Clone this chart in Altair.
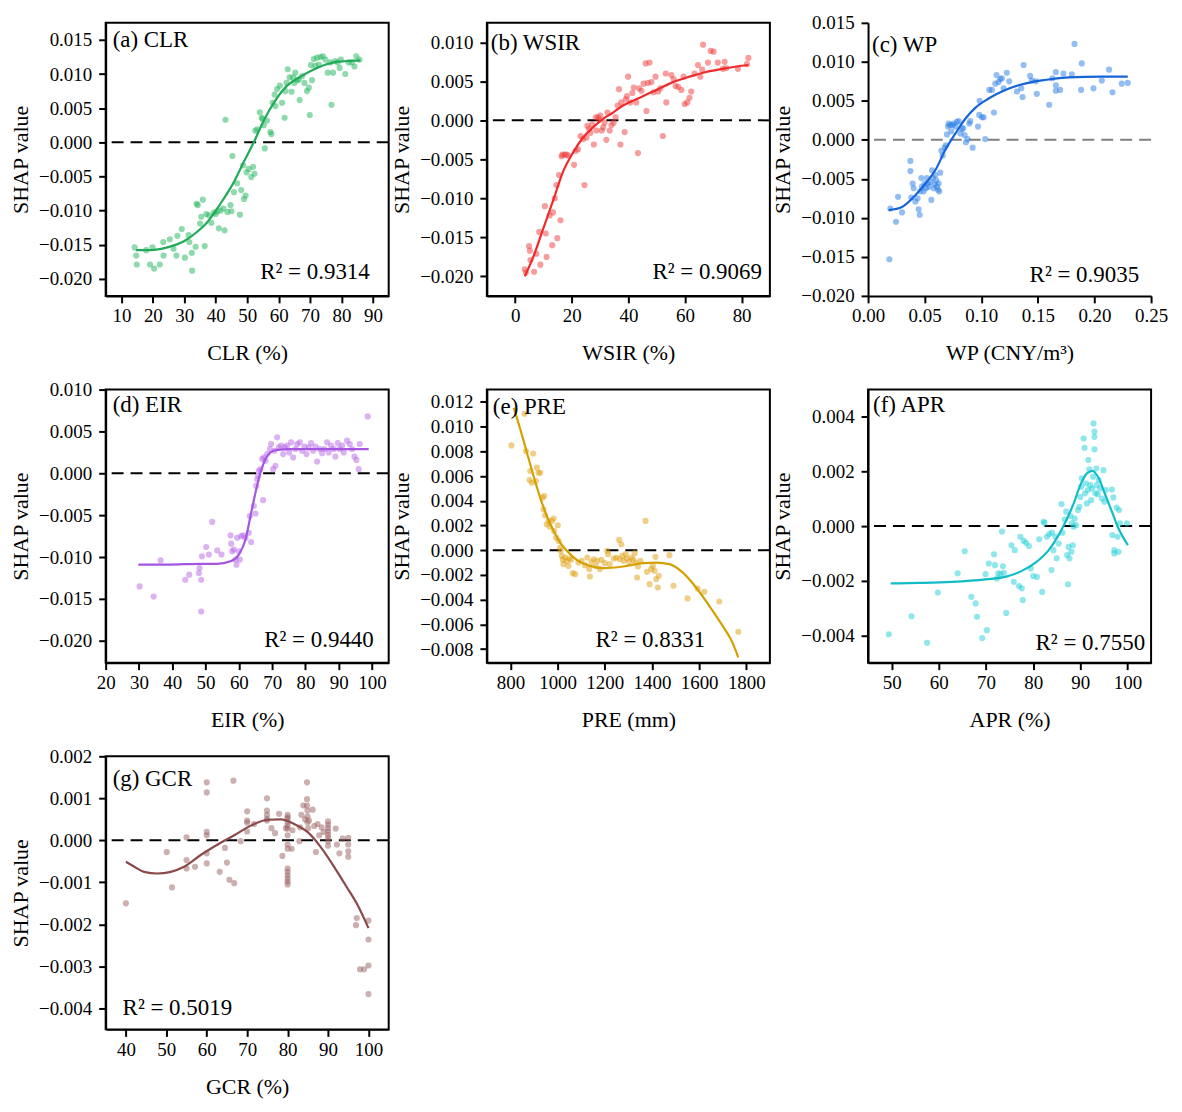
import altair as alt
import pandas as pd

FONT = "Liberation Serif"

# ---------------- data ----------------
a_pts = [(14.2,-0.0154),(14.7,-0.0166),(14.9,-0.0179),(17.9,-0.0158),(19.1,-0.0179),(19.9,-0.0154),(20.4,-0.0185),(22.2,-0.0179),(23.3,-0.0146),(23.4,-0.0166),
         (25.4,-0.0142),(26.6,-0.0156),(27.5,-0.0166),(27.8,-0.0137),(29.2,-0.0127),(30.2,-0.0169),(31.4,-0.0136),(31.6,-0.0146),(32.4,-0.0162),(32.5,-0.0188),
         (33.6,-0.0153),(33.9,-0.0090),(34.3,-0.0092),(35.0,-0.0119),(35.4,-0.0109),(35.9,-0.0084),(36.5,-0.0152),(37.0,-0.0105),(37.8,-0.0107),(38.6,-0.0118),
         (39.4,-0.0103),(40.0,-0.0105),(40.5,-0.0101),(41.0,-0.0126),(41.5,-0.0100),(42.4,-0.0097),(42.8,-0.0129),(43.1,0.0033),(43.7,-0.0102),(44.7,-0.0092),
         (45.0,-0.0101),(45.3,-0.0020),(45.8,-0.0073),(46.8,-0.0060),(47.7,-0.0106),(48.1,-0.0070),(48.7,-0.0034),(49.0,-0.0083),(49.5,-0.0078),(49.8,-0.0044),
         (50.5,-0.0039),(51.3,-0.0051),(51.9,-0.0036),(52.3,-0.0046),(52.6,0.0017),(53.2,0.0019),(54.0,0.0044),(54.6,0.0036),(54.9,0.0034),(55.3,0.0025),
         (55.6,-0.0009),(56.3,0.0032),(57.4,0.0015),(57.7,0.0012),(58.1,0.0058),(58.7,0.0070),(59.0,0.0053),(59.5,0.0078),(60.4,0.0083),(61.1,0.0058),
         (61.9,0.0036),(62.2,0.0075),(62.5,0.0087),(62.9,0.0107),(63.5,0.0095),(64.1,0.0074),(64.6,0.0095),(65.0,0.0087),(65.3,0.0102),(65.9,0.0091),
         (66.4,0.0092),(66.7,0.0062),(67.5,0.0097),(68.2,0.0087),(69.0,0.0075),(69.6,0.0080),(69.9,0.0040),(70.3,0.0113),(70.6,0.0091),(71.2,0.0122),
         (71.7,0.0112),(72.2,0.0124),(72.8,0.0114),(73.3,0.0125),(74.1,0.0126),(74.9,0.0121),(75.6,0.0102),(76.5,0.0117),(76.8,0.0055),(77.3,0.0102),
         (78.0,0.0119),(78.8,0.0117),(79.4,0.0109),(79.8,0.0121),(81.2,0.0100),(82.3,0.0117),(83.3,0.0117),(84.1,0.0111),(84.7,0.0126),(85.7,0.0121)]
a_fit = [(14.6,-0.0158),(19.3,-0.0158),(24.6,-0.0154),(29.9,-0.0145),(34.1,-0.0131),(37.3,-0.0117),(41.5,-0.0090),(45.8,-0.0058),(48.9,-0.0029),
         (52.1,0.0000),(55.3,0.0032),(58.5,0.0058),(62.7,0.0083),(66.9,0.0096),(72.2,0.0109),(77.5,0.0117),(81.7,0.0119),(86.0,0.0120)]

b_pts = [(3.4,-0.0191),(3.8,-0.0195),(4.9,-0.0161),(5.2,-0.0167),(5.4,-0.0179),(6.7,-0.0194),(7.5,-0.0171),(8.5,-0.0143),(8.9,-0.0185),(10.5,-0.0110),
         (10.8,-0.0145),(11.1,-0.0175),(12.2,-0.0122),(13.1,-0.0160),(13.4,-0.0118),(14.0,-0.0100),(14.6,-0.0083),(14.9,-0.0151),(15.5,-0.0070),(16.0,-0.0128),
         (16.4,-0.0046),(16.7,-0.0044),(17.5,-0.0044),(18.1,-0.0044),(18.7,-0.0045),(20.8,-0.0057),(21.4,-0.0039),(22.2,-0.0037),(23.1,-0.0020),(24.0,-0.0024),
         (24.5,-0.0083),(25.2,-0.0022),(25.5,-0.0007),(26.1,-0.0011),(26.6,-0.0016),(27.2,-0.0005),(27.8,-0.0031),(28.5,0.0004),(28.7,-0.0013),(29.3,0.0004),
         (29.6,0.0001),(30.1,0.0006),(30.6,-0.0013),(31.1,-0.0009),(31.6,-0.0003),(32.2,-0.0025),(32.6,0.0010),(33.4,-0.0013),(34.0,-0.0006),(34.8,-0.0003),
         (35.5,0.0004),(36.2,0.0019),(36.7,0.0040),(37.2,-0.0031),(37.5,0.0023),(38.7,-0.0015),(39.1,0.0027),(39.5,0.0031),(39.9,0.0056),(40.7,0.0023),
         (41.4,0.0035),(41.9,0.0042),(42.8,0.0023),(43.4,-0.0042),(43.8,0.0041),(44.6,0.0038),(45.4,0.0047),(46.1,0.0073),(46.4,0.0012),(46.9,0.0048),
         (47.5,0.0074),(48.1,0.0049),(48.9,0.0036),(49.6,0.0056),(50.5,0.0037),(51.3,0.0041),(52.2,-0.0020),(53.2,0.0060),(53.4,0.0023),(55.2,0.0058),
         (56.0,0.0053),(56.7,0.0044),(57.6,0.0043),(58.7,0.0039),(59.5,0.0056),(59.9,0.0021),(60.8,0.0023),(61.6,0.0029),(62.2,0.0037),(63.4,0.0060),
         (64.6,0.0071),(65.4,0.0056),(66.1,0.0065),(66.4,0.0097),(68.1,0.0074),(69.1,0.0089),(70.1,0.0088),(71.6,0.0074),(73.4,0.0066),(74.0,0.0075),
         (74.6,0.0067),(78.7,0.0066),(81.9,0.0072),(82.4,0.0080)]
b_fit = [(3.4,-0.0200),(6.4,-0.0175),(9.9,-0.0139),(13.4,-0.0103),(16.9,-0.0066),(20.5,-0.0041),(24.0,-0.0022),(27.5,-0.0009),(31.1,0.0002),
         (34.6,0.0010),(38.1,0.0019),(44.0,0.0029),(49.9,0.0039),(55.8,0.0049),(61.6,0.0056),(67.5,0.0062),(73.4,0.0066),(78.1,0.0069),(82.4,0.0071)]

c_pts = [(0.0188,-0.0153),(0.0197,-0.0088),(0.0247,-0.0105),(0.0265,-0.0073),(0.0300,-0.0093),(0.0374,-0.0027),(0.0374,-0.0040),(0.0382,-0.0074),(0.0394,-0.0056),(0.0403,-0.0062),
         (0.0418,-0.0079),(0.0438,-0.0075),(0.0447,-0.0089),(0.0456,-0.0096),(0.0462,-0.0066),(0.0471,-0.0049),(0.0476,-0.0060),(0.0491,-0.0066),(0.0500,-0.0056),(0.0512,-0.0062),
         (0.0521,-0.0049),(0.0529,-0.0056),(0.0535,-0.0060),(0.0550,-0.0054),(0.0559,-0.0077),(0.0565,-0.0039),(0.0574,-0.0049),(0.0579,-0.0062),(0.0588,-0.0057),(0.0594,-0.0045),
         (0.0603,-0.0052),(0.0609,-0.0060),(0.0618,-0.0064),(0.0624,-0.0056),(0.0629,-0.0066),(0.0638,-0.0042),(0.0647,-0.0014),(0.0659,-0.0020),(0.0676,-0.0010),(0.0688,-0.0007),
         (0.0697,0.0007),(0.0706,0.0017),(0.0712,0.0021),(0.0726,0.0019),(0.0735,0.0011),(0.0747,0.0019),(0.0756,0.0021),(0.0771,0.0017),(0.0785,0.0023),(0.0800,0.0024),
         (0.0815,0.0008),(0.0829,0.0014),(0.0841,0.0015),(0.0853,0.0006),(0.0865,-0.0003),(0.0879,0.0001),(0.0894,0.0021),(0.0903,0.0024),(0.0924,-0.0010),(0.0971,0.0017),
         (0.0982,0.0032),(0.0985,0.0050),(0.1006,0.0029),(0.1021,0.0029),(0.1035,0.0001),(0.1071,0.0064),(0.1094,0.0064),(0.1112,0.0035),(0.1124,0.0072),(0.1135,0.0083),
         (0.1153,0.0074),(0.1168,0.0078),(0.1182,0.0079),(0.1197,0.0066),(0.1226,0.0086),(0.1247,0.0075),(0.1315,0.0062),(0.1353,0.0066),(0.1365,0.0055),(0.1374,0.0096),
         (0.1432,0.0082),(0.1447,0.0076),(0.1482,0.0075),(0.1491,0.0059),(0.1600,0.0045),(0.1629,0.0079),(0.1659,0.0087),(0.1659,0.0070),(0.1659,0.0063),(0.1697,0.0064),
         (0.1726,0.0085),(0.1800,0.0084),(0.1824,0.0123),(0.1882,0.0064),(0.1888,0.0098),(0.1991,0.0066),(0.2065,0.0076),(0.2129,0.0090),(0.2159,0.0061),(0.2241,0.0072),
         (0.2294,0.0073)]
c_fit = [(0.0182,-0.0090),(0.0300,-0.0086),(0.0418,-0.0071),(0.0506,-0.0056),(0.0594,-0.0039),(0.0682,-0.0013),(0.0771,0.0008),(0.0859,0.0027),
         (0.0947,0.0041),(0.1065,0.0053),(0.1182,0.0062),(0.1329,0.0070),(0.1476,0.0075),(0.1624,0.0078),(0.1771,0.0080),(0.2065,0.0081),(0.2294,0.0081)]

d_pts = [(30.2,-0.0135),(34.4,-0.0147),(36.5,-0.0104),(43.9,-0.0127),(45.1,-0.0121),(48.2,-0.0113),(48.0,-0.0119),(48.7,-0.0127),(48.7,-0.0165),(48.9,-0.0099),
         (50.2,-0.0088),(51.0,-0.0097),(52.0,-0.0058),(53.5,-0.0092),(54.8,-0.0097),(57.5,-0.0074),(57.7,-0.0084),(58.0,-0.0093),(58.5,-0.0091),(59.0,-0.0103),
         (59.3,-0.0109),(59.5,-0.0077),(60.0,-0.0093),(60.3,-0.0103),(60.7,-0.0075),(61.3,-0.0074),(62.0,-0.0077),(63.0,-0.0071),(63.3,-0.0051),(63.7,-0.0082),
         (64.5,-0.0039),(65.0,-0.0048),(65.2,-0.0015),(65.5,-0.0007),(65.8,-0.0003),(66.0,0.0003),(66.5,0.0005),(67.0,0.0017),(67.3,-0.0032),(67.5,0.0019),
         (68.0,0.0015),(68.5,0.0023),(69.3,0.0029),(69.7,0.0035),(70.3,0.0005),(70.7,0.0027),(71.0,0.0009),(71.5,0.0043),(72.0,0.0031),(72.7,0.0033),
         (73.3,0.0023),(73.8,0.0031),(74.5,0.0033),(75.1,0.0025),(75.7,0.0037),(76.3,0.0019),(77.0,0.0029),(77.5,0.0035),(78.3,0.0037),(79.0,0.0027),
         (79.7,0.0032),(80.3,0.0023),(81.0,0.0031),(81.7,0.0036),(82.3,0.0027),(83.0,0.0032),(83.5,0.0014),(84.3,0.0029),(85.0,0.0024),(85.7,0.0029),
         (86.5,0.0037),(87.0,0.0025),(87.7,0.0033),(88.5,0.0029),(89.0,0.0020),(89.7,0.0036),(90.3,0.0029),(91.0,0.0033),(91.5,0.0025),(92.5,0.0039),
         (93.3,0.0035),(94.0,0.0029),(94.7,0.0020),(95.3,0.0016),(96.0,0.0005),(96.3,0.0035),(98.7,0.0068)]
d_fit = [(29.8,-0.0109),(38.5,-0.0109),(48.5,-0.0108),(53.5,-0.0108),(57.5,-0.0105),(60.0,-0.0097),(62.0,-0.0079),(63.5,-0.0051),(65.0,-0.0023),
         (66.5,0.0001),(68.0,0.0017),(69.5,0.0025),(71.5,0.0028),(75.5,0.0029),(88.5,0.0029),(99.0,0.0029)]

e_pts = [(804,0.00848),(860,0.01104),(866,0.00802),(884,0.00641),(881,0.00568),(896,0.00783),(891,0.00546),(908,0.00560),(912,0.00668),(919,0.00627),
         (926,0.00627),(936,0.00425),(943,0.00439),(940,0.00331),(947,0.00283),(954,0.00210),(962,0.00237),(966,0.00191),(976,0.00237),(983,0.00256),
         (985,0.00156),(994,0.00102),(1001,0.00202),(1004,0.00075),(1011,0.00022),(1013,-0.00005),(1018,-0.00046),(1022,-0.00078),(1025,-0.00113),(1032,-0.00059),
         (1039,-0.00086),(1046,-0.00127),(1050,-0.00067),(1057,-0.00078),(1064,-0.00186),(1074,-0.00194),(1088,-0.00100),(1102,-0.00086),(1116,-0.00121),(1126,-0.00059),
         (1134,-0.00153),(1137,-0.00213),(1144,-0.00094),(1154,-0.00073),(1162,-0.00127),(1168,-0.00086),(1179,-0.00153),(1186,-0.00078),(1200,-0.00105),(1210,-0.00005),
         (1214,-0.00032),(1221,-0.00113),(1238,-0.00067),(1249,-0.00059),(1261,0.00083),(1263,-0.00073),(1270,0.00048),(1274,-0.00046),(1280,-0.00086),(1289,-0.00032),
         (1294,-0.00067),(1303,-0.00094),(1313,-0.00059),(1320,-0.00078),(1327,-0.00024),(1331,-0.00100),(1337,-0.00221),(1341,-0.00132),(1351,-0.00086),(1373,0.00237),
         (1379,-0.00175),(1390,-0.00275),(1397,-0.00153),(1404,-0.00127),(1411,-0.00167),(1415,-0.00054),(1418,-0.00234),(1425,-0.00302),(1429,-0.00207),(1474,-0.00040),
         (1491,-0.00288),(1551,-0.00390),(1594,-0.00310),(1622,-0.00336),(1685,-0.00415),(1766,-0.00660)]
e_fit = [(814,0.01152),(842,0.00977),(870,0.00789),(898,0.00600),(926,0.00425),(954,0.00277),(983,0.00156),(1011,0.00062),(1039,-0.00005),
         (1081,-0.00078),(1137,-0.00127),(1193,-0.00145),(1278,-0.00132),(1362,-0.00105),(1418,-0.00100),(1474,-0.00113),(1530,-0.00180),
         (1587,-0.00302),(1643,-0.00450),(1699,-0.00611),(1741,-0.00746),(1766,-0.00867)]

f_pts = [(49.4,-0.00396),(54.2,-0.00330),(57.5,-0.00427),(59.8,-0.00243),(64.0,-0.00173),(65.5,-0.00092),(66.9,-0.00259),(67.8,-0.00283),(68.1,-0.00332),(69.2,-0.00410),
         (69.9,-0.00176),(70.2,-0.00381),(70.6,-0.00137),(71.7,-0.00103),(71.9,-0.00143),(72.3,-0.00192),(72.6,-0.00173),(73.1,-0.00176),(73.4,-0.00020),(73.6,-0.00147),
         (73.8,-0.00171),(74.3,-0.00318),(75.4,-0.00070),(75.9,-0.00204),(76.1,-0.00088),(77.0,-0.00220),(77.3,-0.00039),(77.6,-0.00228),(77.8,-0.00271),(78.0,-0.00054),
         (78.5,-0.00061),(79.1,-0.00073),(79.5,-0.00155),(80.0,-0.00183),(80.8,-0.00186),(81.3,-0.00048),(81.9,-0.00241),(82.2,0.00016),(82.4,0.00012),(82.9,-0.00039),
         (83.4,-0.00029),(83.9,-0.00161),(84.0,-0.00024),(84.3,-0.00088),(84.7,-0.00039),(85.0,-0.00118),(85.4,-0.00064),(86.0,0.00081),(86.2,-0.00024),(86.7,0.00024),
         (87.0,0.00053),(87.2,-0.00106),(87.4,-0.00213),(87.5,-0.00076),(87.7,-0.00118),(87.9,0.00037),(88.1,-0.00094),(88.2,0.00010),(88.4,-0.00070),(88.6,-0.00002),
         (88.8,0.00028),(89.1,0.00004),(89.5,0.00059),(89.8,0.00071),(90.0,0.00107),(90.2,0.00144),(90.3,0.00175),(90.7,0.00321),(90.9,0.00287),(91.0,0.00120),
         (91.2,0.00156),(91.4,0.00083),(91.6,0.00132),(91.7,0.00242),(91.9,0.00208),(92.1,0.00150),(92.3,0.00095),(92.5,0.00138),(92.7,0.00181),(92.8,0.00376),
         (93.0,0.00346),(93.0,0.00327),(93.0,0.00281),(93.2,0.00120),(93.4,0.00211),(93.5,0.00150),(93.7,0.00117),(93.9,0.00169),(94.2,0.00138),(94.6,0.00101),
         (94.9,0.00205),(95.1,0.00089),(95.4,0.00132),(96.7,0.00134),(96.8,-0.00033),(97.0,0.00105),(97.2,-0.00088),(97.2,-0.00100),(97.7,0.00068),(97.9,-0.00039),
         (98.1,-0.00094),(98.2,0.00059),(98.4,0.00010),(99.9,0.00010)]
f_fit = [(49.8,-0.00210),(55.8,-0.00208),(62.8,-0.00204),(69.9,-0.00195),(74.1,-0.00186),(77.6,-0.00164),(80.5,-0.00134),(83.3,-0.00088),
         (85.4,-0.00033),(87.2,0.00028),(88.6,0.00083),(90.0,0.00150),(91.4,0.00193),(92.6,0.00202),(93.9,0.00175),(95.3,0.00114),
         (96.7,0.00053),(98.1,-0.00009),(100.1,-0.00070)]

g_pts = [(40.0,-0.00150),(50.1,-0.00028),(51.4,-0.00112),(55.0,0.00007),(55.0,-0.00047),(55.0,-0.00067),(57.1,-0.00063),(60.0,0.00138),(60.0,0.00114),(60.0,0.00020),
         (60.0,0.00012),(60.0,-0.00031),(60.0,-0.00055),(63.2,-0.00075),(64.5,-0.00018),(65.0,-0.00053),(65.6,-0.00094),(66.6,0.00142),(66.8,-0.00102),(68.4,-0.00002),
         (70.0,0.00069),(70.0,0.00047),(70.0,0.00042),(70.0,0.00021),(71.7,0.00039),(74.9,0.00100),(74.9,0.00071),(74.9,0.00061),(74.9,0.00051),(74.9,0.00047),
         (76.0,0.00029),(76.9,0.00017),(77.9,0.00063),(78.7,-0.00037),(79.6,0.00029),(80.0,0.00061),(80.0,0.00055),(80.0,0.00051),(80.0,0.00043),(80.0,0.00035),
         (80.0,0.00028),(80.0,0.00012),(80.0,-0.00010),(80.0,-0.00020),(80.0,-0.00067),(80.0,-0.00075),(80.0,-0.00083),(80.0,-0.00091),(80.0,-0.00098),(80.0,-0.00105),
         (81.0,-0.00020),(81.2,0.00024),(82.9,-0.00002),(83.1,0.00031),(83.4,0.00061),(83.9,0.00083),(84.3,0.00050),(84.8,0.00138),(84.8,0.00098),(84.8,0.00083),
         (84.9,0.00071),(84.9,0.00057),(84.9,0.00043),(85.1,0.00029),(85.3,0.00047),(86.2,0.00073),(86.6,0.00034),(87.0,-0.00028),(87.4,0.00039),(87.8,0.00012),
         (88.4,0.00031),(88.9,0.00020),(90.0,0.00045),(90.0,0.00037),(90.0,0.00029),(90.0,0.00021),(90.0,0.00013),(90.0,0.00006),(90.0,-0.00002),(90.0,-0.00013),
         (91.9,0.00028),(92.2,-0.00010),(92.8,-0.00031),(93.6,0.00004),(95.0,0.00006),(95.0,-0.00010),(95.0,-0.00026),(95.0,-0.00039),(96.9,-0.00202),(97.1,-0.00185),
         (97.9,-0.00307),(98.9,-0.00307),(100.0,-0.00191),(100.0,-0.00236),(100.0,-0.00298),(100.0,-0.00366)]
g_fit = [(40.0,-0.00051),(42.1,-0.00063),(44.5,-0.00075),(47.8,-0.00079),(51.1,-0.00075),(54.4,-0.00063),(58.5,-0.00035),(62.7,-0.00010),
         (66.8,0.00012),(70.9,0.00035),(75.0,0.00049),(78.3,0.00050),(81.6,0.00039),(84.9,0.00020),(88.2,-0.00016),(91.5,-0.00063),
         (94.8,-0.00114),(97.3,-0.00154),(100.0,-0.00209)]

# axis ticks
a_xt = [10, 20, 30, 40, 50, 60, 70, 80, 90]
a_yt = [-0.020, -0.015, -0.010, -0.005, 0.0, 0.005, 0.010, 0.015]
b_xt = [0, 20, 40, 60, 80]
b_yt = [-0.020, -0.015, -0.010, -0.005, 0.0, 0.005, 0.010]
c_xt = [0.0, 0.05, 0.10, 0.15, 0.20, 0.25]
c_yt = [-0.020, -0.015, -0.010, -0.005, 0.0, 0.005, 0.010, 0.015]
d_xt = [20, 30, 40, 50, 60, 70, 80, 90, 100]
d_yt = [-0.020, -0.015, -0.010, -0.005, 0.0, 0.005, 0.010]
e_xt = [800, 1000, 1200, 1400, 1600, 1800]
e_yt = [-0.008, -0.006, -0.004, -0.002, 0.0, 0.002, 0.004, 0.006, 0.008, 0.010, 0.012]
f_xt = [50, 60, 70, 80, 90, 100]
f_yt = [-0.004, -0.002, 0.0, 0.002, 0.004]
g_xt = [40, 50, 60, 70, 80, 90, 100]
g_yt = [-0.004, -0.003, -0.002, -0.001, 0.0, 0.001, 0.002]

W, H = 284, 274
MINUS = "replace(datum.label, '-', '\u2212')"
TXT = 23


def panel(pts, fit, pt_color, ln_color, xdom, ydom, xt, yt, xfmt, yfmt, xtitle,
          label, lab_xy, r2, r2_x, r2_y, r2_align="right", zero_color="black", box=True):
    dfp = pd.DataFrame(pts, columns=["x", "y"])
    dff = pd.DataFrame(fit, columns=["x", "y"])
    xs = alt.Scale(domain=xdom, nice=False, zero=False)
    ys = alt.Scale(domain=ydom, nice=False, zero=False)
    xax = alt.Axis(values=xt, format=xfmt, title=xtitle)
    yax = alt.Axis(values=yt, format=yfmt, title="SHAP value", labelExpr=MINUS)
    X = alt.X("x:Q", scale=xs, axis=xax)
    Y = alt.Y("y:Q", scale=ys, axis=yax)
    zero = alt.Chart(pd.DataFrame({"y": [0.0]})).mark_rule(
        color=zero_color, strokeDash=[12, 7], strokeWidth=2).encode(y=Y)
    points = alt.Chart(dfp).mark_circle(size=38, opacity=0.5, color=pt_color).encode(x=X, y=Y)
    line = alt.Chart(dff).mark_line(color=ln_color, strokeWidth=2.2,
                                    interpolate="monotone").encode(x=X, y=Y)
    lab = alt.Chart(pd.DataFrame({"t": [label]})).mark_text(
        align="left", baseline="alphabetic", fontSize=TXT, font=FONT, color="black"
    ).encode(x=alt.value(lab_xy[0]), y=alt.value(lab_xy[1]), text="t:N")
    r2t = alt.Chart(pd.DataFrame({"t": [r2]})).mark_text(
        align=r2_align, baseline="alphabetic", fontSize=TXT, font=FONT, color="black"
    ).encode(x=alt.value(r2_x), y=alt.value(r2_y), text="t:N")
    ch = alt.layer(zero, points, line, lab, r2t).properties(width=W, height=H)
    if not box:
        ch = ch.properties(view=alt.ViewBackground(stroke="transparent"))
    return ch


pa = panel(a_pts, a_fit, "#1fb559", "#22aa5a", [5, 95], [-0.0225, 0.0175], a_xt, a_yt, "d", ".3f",
           "CLR (%)", "(a) CLR", (7, 24), "R² = 0.9314", W - 19, 257)
pb = panel(b_pts, b_fit, "#f03c3c", "#f02a2a", [-10, 90], [-0.0225, 0.0125], b_xt, b_yt, "d", ".3f",
           "WSIR (%)", "(b) WSIR", (4, 27), "R² = 0.9069", W - 8, 257)
pc = panel(c_pts, c_fit, "#2a7de8", "#1565d8", [0, 0.25], [-0.020, 0.015], c_xt, c_yt, ".2f", ".3f",
           "WP (CNY/m³)", "(c) WP", (4, 29), "R² = 0.9035", W - 12, 260,
           zero_color="#808080", box=False)
pd_ = panel(d_pts, d_fit, "#b765e6", "#a456e0", [20, 105], [-0.0226, 0.010], d_xt, d_yt, "d", ".3f",
            "EIR (%)", "(d) EIR", (7, 23), "R² = 0.9440", W - 15, 258)
pe = panel(e_pts, e_fit, "#e0a010", "#d4a000", [700, 1900], [-0.0091, 0.0130], e_xt, e_yt, "d", ".3f",
           "PRE (mm)", "(e) PRE", (6, 25), "R² = 0.8331", W - 65, 258)
pf = panel(f_pts, f_fit, "#20d0d8", "#12bcc6", [45, 105], [-0.0050, 0.0050], f_xt, f_yt, "d", ".3f",
           "APR (%)", "(f) APR", (5, 23), "R² = 0.7550", W - 6, 261)
pg = panel(g_pts, g_fit, "#9a6060", "#8b4a4a", [35, 105], [-0.0045, 0.0020], g_xt, g_yt, "d", ".3f",
           "GCR (%)", "(g) GCR", (7, 30), "R² = 0.5019", 17, 260, r2_align="left")

chart = alt.concat(pa, pb, pc, pd_, pe, pf, pg, columns=3,
                   spacing={"row": 94, "column": 98.5}, bounds="flush").properties(
    padding={"left": 0, "top": 3, "right": 5, "bottom": 5},
    background="white"
).configure_view(
    stroke="black", strokeWidth=2
).configure_axis(
    labelFont=FONT, titleFont=FONT, labelFontSize=19, titleFontSize=22,
    titleFontWeight="normal", labelColor="black", titleColor="black",
    domainColor="black", domainWidth=2, tickColor="black", tickWidth=2, tickSize=7,
    grid=False, labelFlush=False, labelOverlap=False
).configure_axisX(
    labelPadding=4, titlePadding=17
).configure_axisY(
    labelPadding=7, titlePadding=6
)

chart.save("out.html", embed_options={"renderer": "svg", "actions": False})
